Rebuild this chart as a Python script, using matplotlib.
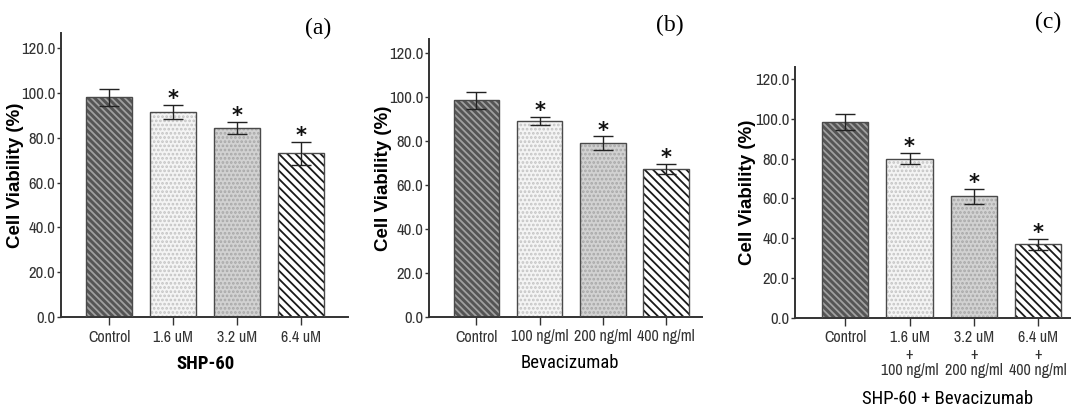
import matplotlib
matplotlib.use("Agg")
import matplotlib.pyplot as plt
from matplotlib import font_manager as fm
import numpy as np

# data
cats_a = ["Control", "1.6 uM", "3.2 uM", "6.4 uM"]
vals_a = [98.2, 91.4, 84.4, 73.1]
err_a = [3.8, 3.2, 2.6, 5.2]

cats_b = ["Control", "100 ng/ml", "200 ng/ml", "400 ng/ml"]
vals_b = [98.6, 89.2, 79.1, 67.3]
err_b = [3.8, 1.8, 3.0, 2.3]

cats_c = ["Control", "1.6 uM\n+\n100 ng/ml", "3.2 uM\n+\n200 ng/ml", "6.4 uM\n+\n400 ng/ml"]
vals_c = [98.3, 80.0, 61.0, 37.1]
err_c = [4.0, 2.9, 3.8, 2.8]

signif = [False, True, True, True]
yticks = [0, 20, 40, 60, 80, 100, 120]

# bar styles: face, hatch, hatch colour
styles = [
    ("#555555", "\\\\\\\\\\", "#a0a0a0"),
    ("#f4f4f4", "....", "#c4c4c4"),
    ("#d2d2d2", "....", "#a8a8a8"),
    ("#ffffff", "\\\\\\\\", "#1a1a1a"),
]

# pick a narrow sans for the Arial Narrow look, preferably one with a bold face
weights = {}
for f in fm.fontManager.ttflist:
    w = f.weight if isinstance(f.weight, int) else 400
    weights.setdefault(f.name, set()).add(w)
cands = ["Liberation Sans Narrow", "Arimo Narrow", "Archivo Narrow", "Roboto Condensed",
         "PT Sans Narrow", "Pragati Narrow", "Asap Condensed", "Barlow Condensed"]
narrow = "DejaVu Sans"
for c in cands:
    if c in weights:
        narrow = c
        break
narrow_bold = None
for c in cands:
    if c in weights and any(w >= 700 for w in weights[c]):
        narrow_bold = c
        break
NARROW = [narrow, "DejaVu Sans"]
plt.rcParams["hatch.linewidth"] = 1.3

W, H = 1071, 408
fig = plt.figure(figsize=(W / 100, H / 100), dpi=100)


def panel(rect_px, cats, vals, errs, xlim, ytop, xlabel, xlabel_bold, tag, tag_xy, ylab_x):
    x0, x1, ybot, ytop_px = rect_px
    ax = fig.add_axes([x0 / W, 1 - ybot / H, (x1 - x0) / W, (ybot - ytop_px) / H])
    x = np.arange(len(cats))
    for i in range(len(cats)):
        face, hatch, hcol = styles[i]
        ax.bar(x[i], vals[i], width=0.72, color=face, linewidth=0, zorder=1)
        ax.bar(x[i], vals[i], width=0.72, fill=False, hatch=hatch,
               edgecolor=hcol, linewidth=0, zorder=2)
        ax.bar(x[i], vals[i], width=0.72, fill=False, edgecolor="#4a4a4a",
               linewidth=1.0, zorder=3)
    ax.errorbar(x, vals, yerr=errs, fmt="none", ecolor="#222222",
                elinewidth=1.0, capsize=7, capthick=1.0, zorder=4)
    for i in range(len(cats)):
        if signif[i]:
            ax.annotate("*", (x[i], vals[i] + errs[i]), xytext=(0, -3),
                        textcoords="offset points", ha="center", va="bottom",
                        fontsize=15, fontweight="bold", color="#111111", zorder=5)
    ax.set_xlim(*xlim)
    ax.set_ylim(0, ytop)
    ax.set_yticks(yticks)
    ax.set_yticklabels([f"{v:.1f}" for v in yticks], family=NARROW, fontsize=12, color="#1a1a1a")
    ax.set_xticks(x)
    ax.set_xticklabels(cats, family=NARROW, fontsize=11.5, color="#1a1a1a", linespacing=1.1)
    ax.tick_params(axis="y", length=3, width=1, pad=1, colors="#333333")
    ax.tick_params(axis="x", length=6, width=1, pad=3, colors="#333333")
    for s in ("top", "right"):
        ax.spines[s].set_visible(False)
    for s in ("left", "bottom"):
        ax.spines[s].set_color("#333333")
        ax.spines[s].set_linewidth(1.4)
    ax.set_ylabel("Cell Viability (%)", fontsize=13.5, fontweight="bold",
                  family=["Liberation Sans", "DejaVu Sans"])
    ax.yaxis.set_label_coords(ylab_x, 0.5)
    bold_fam = [narrow_bold, "DejaVu Sans"] if narrow_bold else NARROW
    fig.text(xlabel[1] / W, 1 - xlabel[2] / H, xlabel[0], ha="center", va="center",
             fontsize=13.5, fontweight="bold" if xlabel_bold else "normal", family=bold_fam)
    fig.text(tag_xy[0] / W, 1 - tag_xy[1] / H, tag, ha="center", va="center",
             fontsize=17, family=["Liberation Serif", "DejaVu Serif"])
    return ax


panel((61, 348, 317, 33), cats_a, vals_a, err_a, (-0.75, 3.73), 126.8,
      ("SHP-60", 205, 364), True, "(a)", (318, 28), -0.13)
panel((429, 702, 317, 39), cats_b, vals_b, err_b, (-0.75, 3.57), 126.4,
      ("Bevacizumab", 570, 363), False, "(b)", (670, 25), -0.135)
panel((795, 1071, 318, 67), cats_c, vals_c, err_c, (-0.78, 3.51), 126.0,
      ("SHP-60 + Bevacizumab", 948, 399), False, "(c)", (1048, 22), -0.14)

fig.savefig("out.png", dpi=100)
